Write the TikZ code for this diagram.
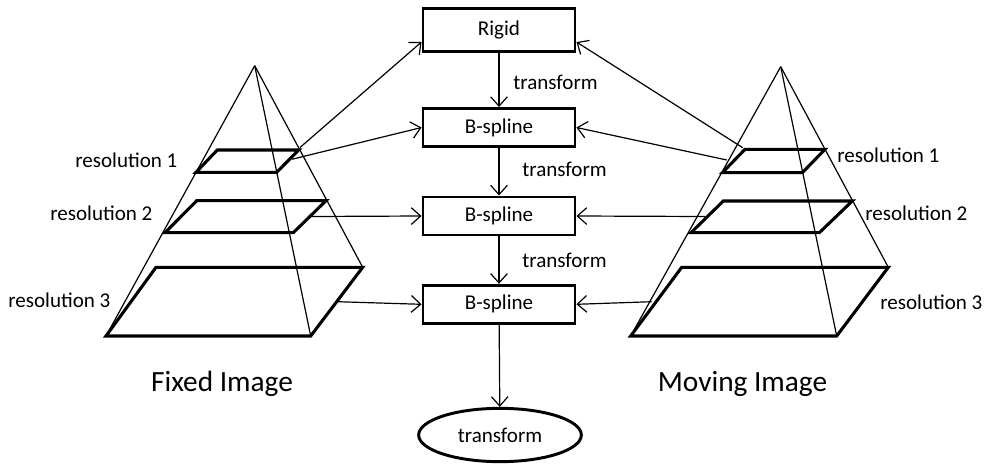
\documentclass[tikz,border=0pt]{standalone}
\usepackage{fontspec}
\setmainfont{Carlito}
\usetikzlibrary{arrows.meta,shapes.geometric}
\begin{document}
\begin{tikzpicture}[x=0.75pt,y=-0.75pt,
  edge/.style={line width=0.9pt},
  level/.style={line width=2.3pt,line join=miter},
  stage/.style={draw,line width=2.2pt,minimum width=114pt,inner sep=0pt,font=\fontsize{15.8}{18}\selectfont},
  result/.style={draw,ellipse,line width=2.2pt,minimum width=122pt,minimum height=40pt,inner sep=0pt,font=\fontsize{15.8}{18}\selectfont},
  lbl/.style={font=\fontsize{15.8}{18}\selectfont,inner sep=0pt},
  title/.style={font=\fontsize{22}{26}\selectfont,inner sep=0pt},
  flow/.style={line width=0.9pt,-{Straight Barb[length=7pt,width=12.5pt,line width=0.9pt]}}]
\useasboundingbox (0,0) rectangle (991,464);

% ---- central chain ----
\node[stage,minimum height=32pt] (rigid) at (499,30) {Rigid};
\node[stage,minimum height=28.5pt] (bs1) at (499,127.5) {B-spline};
\node[stage,minimum height=28.5pt] (bs2) at (499,216) {B-spline};
\node[stage,minimum height=28.5pt] (bs3) at (499,304.3) {B-spline};
\node[result] (out) at (500,435) {transform};

\draw[flow] (rigid) -- (bs1);
\draw[flow] (bs1) -- (bs2);
\draw[flow] (bs2) -- (bs3);
\draw[flow] (bs3) -- (out);
\node[lbl,anchor=west] (t1) at (513,82) {transform};
\node[lbl,anchor=west] (t2) at (522,169) {transform};
\node[lbl,anchor=west] (t3) at (522,260) {transform};

% ---- fixed image pyramid ----
\coordinate (fa) at (254.7,65.7);
\draw[edge] (fa) -- (106,336);
\draw[edge] (fa) -- (310.7,336);
\draw[edge] (fa) -- (362.7,267.3);
\draw[level] (106,336) -- (310.7,336) -- (362.7,267.3) -- (156,267.3) -- cycle;
\draw[level] (165,232.7) -- (293.3,232.7) -- (326,200.7) -- (196.7,200.7) -- cycle;
\draw[level] (196,172.3) -- (276.7,172.3) -- (298.7,150) -- (217.3,150) -- cycle;
\coordinate (f0) at (300,147.5);
\coordinate (f1) at (291.7,159.3);
\coordinate (f2) at (311,216.5);
\coordinate (f3) at (337.3,301.7);
\draw[flow] (f0) -- ([yshift=-9pt]rigid.west);
\draw[flow] (f1) -- (bs1.west);
\draw[flow] (f2) -- (bs2.west);
\draw[flow] (f3) -- (bs3.west);
\node[lbl,anchor=west] (fr1) at (75,160) {resolution 1};
\node[lbl,anchor=west] (fr2) at (50,213) {resolution 2};
\node[lbl,anchor=west] (fr3) at (8,300) {resolution 3};
\node[title] (fixed) at (222,384) {Fixed Image};

% ---- moving image pyramid ----
\coordinate (ma) at (780.7,66.7);
\draw[edge] (ma) -- (630.7,336);
\draw[edge] (ma) -- (836.7,336);
\draw[edge] (ma) -- (888.3,267.3);
\draw[level] (630.7,336) -- (836.7,336) -- (888.3,267.3) -- (681.7,267.3) -- cycle;
\draw[level] (691,232.7) -- (819.3,232.7) -- (852.3,201) -- (723.3,201) -- cycle;
\draw[level] (722.3,172.7) -- (802.3,172.7) -- (825,149.3) -- (745,149.3) -- cycle;
\coordinate (m0) at (742.7,147.7);
\coordinate (m1) at (726.7,160);
\coordinate (m2) at (705,216.5);
\coordinate (m3) at (651.7,301.7);
\draw[flow] (m0) -- ([yshift=-9pt]rigid.east);
\draw[flow] (m1) -- (bs1.east);
\draw[flow] (m2) -- (bs2.east);
\draw[flow] (m3) -- (bs3.east);
\node[lbl,anchor=west] (mr1) at (837,155) {resolution 1};
\node[lbl,anchor=west] (mr2) at (865,213) {resolution 2};
\node[lbl,anchor=west] (mr3) at (880,302) {resolution 3};
\node[title] (moving) at (742.5,384) {Moving Image};
\end{tikzpicture}
\end{document}
